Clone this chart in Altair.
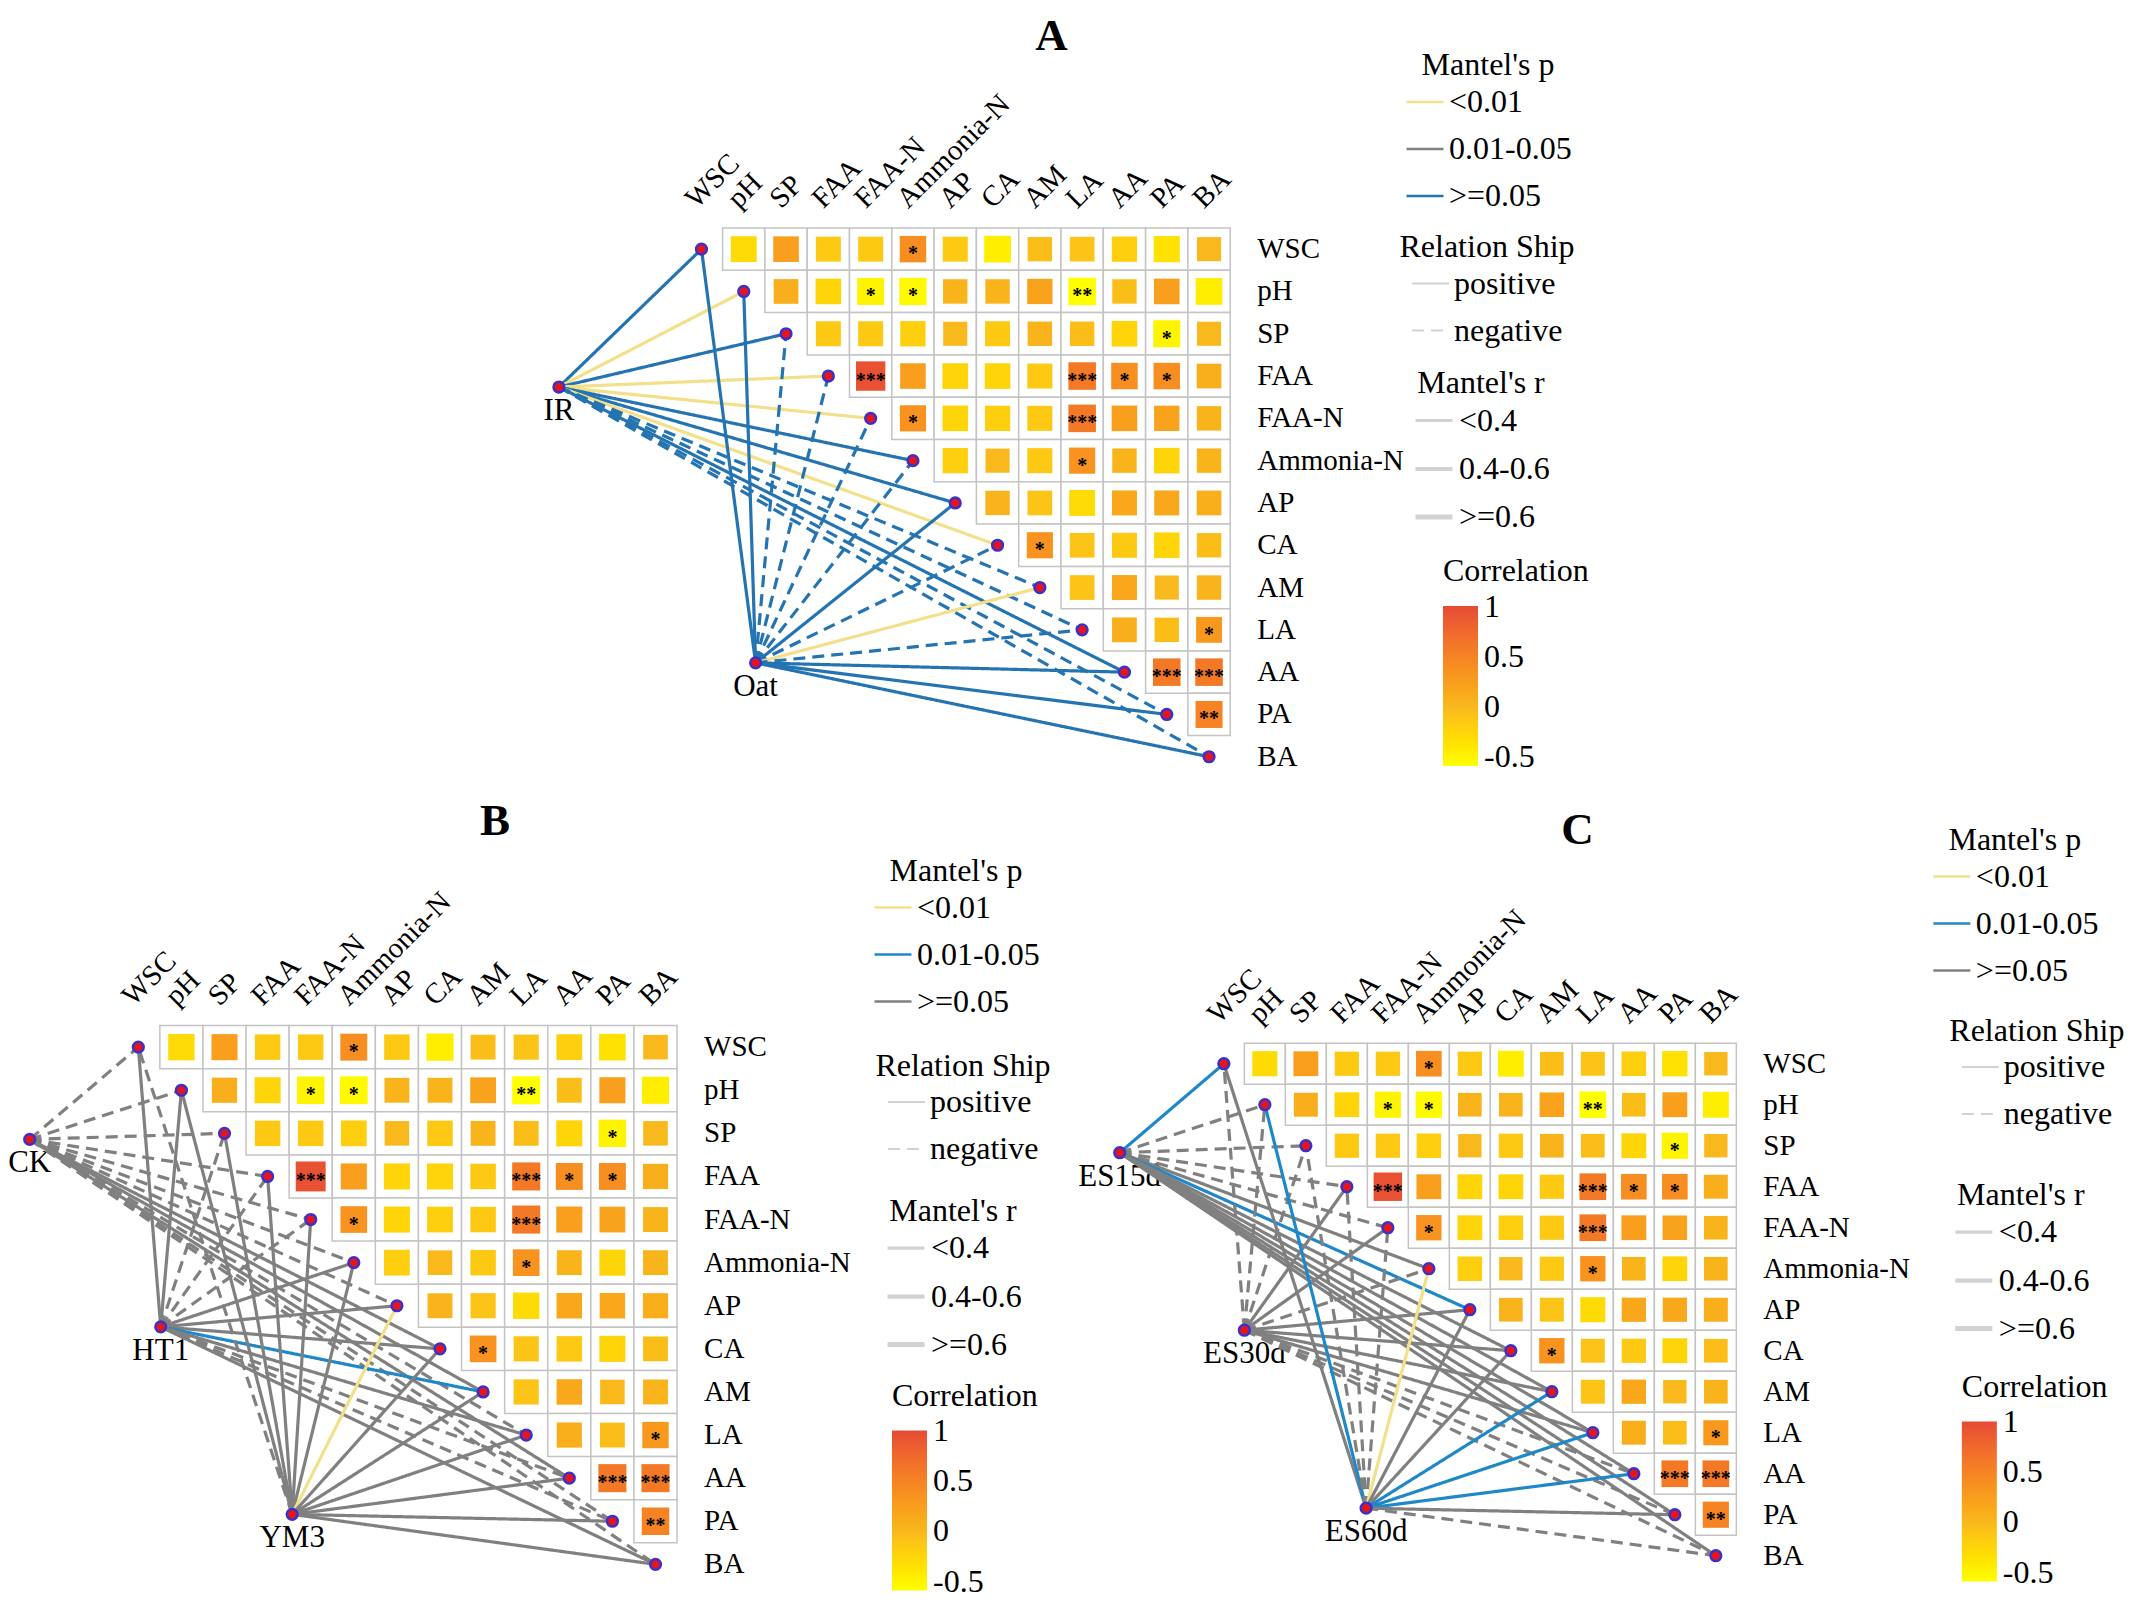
import altair as alt
import pandas as pd

# ---------------- data ----------------
VARS = ["WSC", "pH", "SP", "FAA", "FAA-N", "Ammonia-N", "AP", "CA", "AM", "LA", "AA", "PA", "BA"]

# upper triangle of the correlation matrix: row i holds r(VARS[i], VARS[j]) for j > i
CORR = [
    [-0.30, 0.25, -0.15, -0.15, 0.40, -0.15, -0.45, -0.05, -0.10, -0.20, -0.35, 0.00],
    [0.10, -0.25, -0.50, -0.55, 0.05, 0.05, 0.20, -0.59, -0.05, 0.25, -0.45],
    [-0.15, -0.15, -0.20, 0.00, -0.15, 0.05, -0.05, -0.25, -0.50, 0.00],
    [0.95, 0.25, -0.25, -0.25, -0.15, 0.60, 0.40, 0.40, 0.10],
    [0.35, -0.25, -0.20, -0.15, 0.60, 0.25, 0.20, 0.05],
    [-0.20, 0.00, -0.15, 0.35, 0.05, -0.25, 0.05],
    [0.05, -0.10, -0.30, 0.15, 0.15, 0.10],
    [0.35, -0.10, -0.15, -0.25, -0.05],
    [-0.10, 0.15, 0.00, 0.05],
    [0.10, -0.05, 0.30],
    [0.60, 0.60],
    [0.50],
]

STARS = [
    ("WSC", "Ammonia-N", "*"), ("pH", "FAA-N", "*"), ("pH", "Ammonia-N", "*"), ("pH", "LA", "**"),
    ("SP", "PA", "*"), ("FAA", "FAA-N", "***"), ("FAA", "LA", "***"), ("FAA", "AA", "*"),
    ("FAA", "PA", "*"), ("FAA-N", "Ammonia-N", "*"), ("FAA-N", "LA", "***"), ("Ammonia-N", "LA", "*"),
    ("CA", "AM", "*"), ("LA", "BA", "*"), ("AA", "PA", "***"), ("AA", "BA", "***"), ("PA", "BA", "**"),
]

P_CATS = ["<0.01", "0.01-0.05", ">=0.05"]
R_CATS = ["<0.4", "0.4-0.6", ">=0.6"]
SIGNS = ["positive", "negative"]
LT, MID, HI = P_CATS
POS, NEG = SIGNS
R1 = R_CATS[0]

# Mantel links: per group, one entry per variable (VARS order)
A_GROUPS = ["IR", "Oat"]
A_P = {
    "IR":  [HI, LT, HI, LT, LT, HI, HI, LT, HI, HI, HI, HI, HI],
    "Oat": [HI, HI, HI, HI, HI, HI, HI, HI, LT, HI, HI, HI, HI],
}
A_SIGN = {
    "IR":  [POS, POS, POS, POS, POS, POS, POS, POS, NEG, NEG, POS, NEG, NEG],
    "Oat": [POS, POS, NEG, NEG, NEG, NEG, POS, NEG, POS, NEG, POS, POS, POS],
}

B_GROUPS = ["CK", "HT1", "YM3"]
B_P = {
    "CK":  [HI, HI, HI, HI, HI, HI, HI, HI, HI, HI, HI, HI, HI],
    "HT1": [HI, HI, HI, HI, HI, HI, HI, HI, MID, HI, HI, HI, HI],
    "YM3": [HI, HI, HI, HI, HI, HI, LT, HI, HI, HI, HI, HI, HI],
}
B_SIGN = {
    "CK":  [NEG, NEG, NEG, NEG, NEG, NEG, NEG, POS, POS, NEG, POS, NEG, NEG],
    "HT1": [POS, POS, NEG, NEG, NEG, POS, POS, POS, POS, POS, NEG, NEG, POS],
    "YM3": [NEG, POS, POS, POS, POS, POS, POS, POS, POS, POS, POS, POS, POS],
}

C_GROUPS = ["ES15d", "ES30d", "ES60d"]
C_P = {
    "ES15d": [MID, HI, HI, HI, HI, HI, MID, HI, HI, HI, HI, HI, HI],
    "ES30d": [HI, HI, HI, HI, HI, HI, HI, HI, HI, HI, HI, HI, HI],
    "ES60d": [HI, MID, HI, HI, HI, LT, HI, HI, MID, MID, MID, HI, HI],
}
C_SIGN = {
    "ES15d": [POS, NEG, NEG, NEG, NEG, POS, POS, POS, POS, POS, POS, POS, POS],
    "ES30d": [NEG, NEG, NEG, POS, POS, NEG, POS, POS, POS, POS, NEG, NEG, NEG],
    "ES60d": [POS, POS, NEG, NEG, NEG, POS, POS, POS, POS, POS, POS, POS, NEG],
}

# ---------------- layout (grid units) ----------------
A_NODE_POS = {"IR": (-3.37, 3.26), "Oat": (1.28, 9.78)}
B_NODE_POS = {"CK": (-2.52, 2.14), "HT1": (0.52, 6.49), "YM3": (3.57, 10.84)}
C_NODE_POS = {"ES15d": (-2.54, 2.17), "ES30d": (0.50, 6.50), "ES60d": (3.47, 10.84)}

FONT = "Liberation Serif"
YELLOW_L, BLUE_A, BLUE_BC, GRAY_L = "#F3E08A", "#2474B2", "#1E88C8", "#808080"
LEG_GRAY = "#D2D2D2"
FILL_DOMAIN = [-0.59, 0, 1.006]
FILL_RANGE = ["#FFFF00", "#F9B81C", "#E64B35"]


def make_panel(letter, groups, pmap, smap, node_pos, u, xdom, ydom, pcolors, leg, tdx, toff):
    W = (xdom[1] - xdom[0]) * u
    H = (ydom[1] - ydom[0]) * u
    xs = alt.Scale(domain=xdom, nice=False, zero=False)
    ys = alt.Scale(domain=ydom, nice=False, zero=False, reverse=True)
    star_lookup = {(a, b): s for a, b, s in STARS}

    cells = []
    for i in range(len(VARS)):
        for j in range(i + 1, len(VARS)):
            r = CORR[i][j - i - 1]
            cells.append(dict(x=j, y=i, x0=j - 0.5, x1=j + 0.5, y0=i - 0.5, y1=i + 0.5,
                              r=r, ar=abs(r), star=star_lookup.get((VARS[i], VARS[j]), "")))
    cells = pd.DataFrame(cells)

    links = []
    for g in groups:
        gx, gy = node_pos[g]
        for i, v in enumerate(VARS):
            links.append(dict(x=gx, y=gy, x2=i, y2=i, p=pmap[g][i], sign=smap[g][i], rc=R1))
    links = pd.DataFrame(links)

    dots = pd.DataFrame([dict(x=i, y=i) for i in range(len(VARS))] +
                        [dict(x=node_pos[g][0], y=node_pos[g][1]) for g in groups])
    glabels = pd.DataFrame([dict(x=node_pos[g][0], y=node_pos[g][1], t=g) for g in groups])
    rows = pd.DataFrame([dict(x=len(VARS) - 0.5, y=i, t=v) for i, v in enumerate(VARS)])
    cols = pd.DataFrame([dict(x=i - 5.0 / u, y=-0.5 - 18.5 / u, t=v) for i, v in enumerate(VARS)])

    X = lambda f: alt.X(f, scale=xs, axis=None)
    Y = lambda f: alt.Y(f, scale=ys, axis=None)

    common_leg = dict(orient="none", padding=0, titleFont=FONT, labelFont=FONT, titleFontSize=32,
                      labelFontSize=32, titleFontWeight="normal", titleColor="black",
                      labelColor="black", titleLimit=400, labelLimit=400)
    sym_leg = dict(symbolType="stroke", symbolSize=1369, titlePadding=0, rowPadding=11,
                   labelOffset=4, titleAnchor="middle")

    grid = alt.Chart(cells).mark_rect(fill="white", stroke="#C4C4C4", strokeWidth=1.5).encode(
        x=X("x0:Q"), x2="x1:Q", y=Y("y0:Q"), y2="y1:Q")

    squares = alt.Chart(cells).mark_square(opacity=1).encode(
        x=X("x:Q"), y=Y("y:Q"),
        fill=alt.Fill("r:Q", scale=alt.Scale(domain=FILL_DOMAIN, range=FILL_RANGE),
                      legend=alt.Legend(title="Correlation", legendX=leg["c"][0], legendY=leg["c"][1],
                                        direction="vertical", gradientLength=160, gradientThickness=35,
                                        gradientStrokeWidth=0, values=[1, 0.5, 0, -0.5],
                                        labelExpr="toString(datum.value)", titlePadding=18,
                                        labelOffset=6, titleAnchor="start", labelOverlap=False,
                                        labelBaseline="middle", **common_leg)),
        size=alt.Size("ar:Q", scale=alt.Scale(domain=[0, 1], range=[(0.57 * u) ** 2, (0.70 * u) ** 2]),
                      legend=None))

    stars = alt.Chart(cells).mark_text(font=FONT, fontSize=20, fontWeight="bold", dy=5,
                                       color="black").encode(
        x=X("x:Q"), y=Y("y:Q"), text="star:N")

    rules = alt.Chart(links).mark_rule().encode(
        x=X("x:Q"), y=Y("y:Q"), x2="x2:Q", y2="y2:Q",
        stroke=alt.Stroke("p:N", scale=alt.Scale(domain=P_CATS, range=pcolors),
                          legend=alt.Legend(title="Mantel's p", legendX=leg["p"][0], legendY=leg["p"][1],
                                            symbolStrokeWidth=2.5, **sym_leg, **common_leg)),
        strokeDash=alt.StrokeDash("sign:N", scale=alt.Scale(domain=SIGNS, range=[[1, 0], [12, 7]]),
                                  legend=alt.Legend(title="Relation Ship", legendX=leg["s"][0],
                                                    legendY=leg["s"][1], symbolStrokeColor=LEG_GRAY,
                                                    symbolStrokeWidth=2, **sym_leg, **common_leg)),
        strokeWidth=alt.StrokeWidth("rc:O", scale=alt.Scale(domain=R_CATS, range=[3.2, 5, 7]),
                                    legend=alt.Legend(title="Mantel's r", legendX=leg["r"][0],
                                                      legendY=leg["r"][1], symbolStrokeColor=LEG_GRAY,
                                                      **sym_leg, **common_leg)))

    pts = alt.Chart(dots).mark_circle(size=115, opacity=1, fill="#E8141B", stroke="#3A32C8",
                                      strokeWidth=2.5).encode(x=X("x:Q"), y=Y("y:Q"))

    glab = alt.Chart(glabels).mark_text(font=FONT, fontSize=31, dy=33, baseline="alphabetic",
                                        align="center", color="black").encode(
        x=X("x:Q"), y=Y("y:Q"), text="t:N")
    rlab = alt.Chart(rows).mark_text(font=FONT, fontSize=29, dx=27, align="left", baseline="middle",
                                     color="black").encode(x=X("x:Q"), y=Y("y:Q"), text="t:N")
    clab = alt.Chart(cols).mark_text(font=FONT, fontSize=29, angle=315, align="left",
                                     baseline="alphabetic", color="black").encode(
        x=X("x:Q"), y=Y("y:Q"), text="t:N")

    return alt.layer(grid, squares, stars, glab, rules, pts, rlab, clab).properties(
        width=W, height=H,
        title=alt.TitleParams(letter, font=FONT, fontSize=45, fontWeight="bold", color="black",
                              anchor="middle", frame="group", dx=tdx, offset=toff))


A = make_panel("A", A_GROUPS, A_P, A_SIGN, A_NODE_POS, 42.3, [-16.37, 12.5], [-0.5, 12.5],
               [YELLOW_L, GRAY_L, BLUE_A],
               {"p": (1396, -178), "s": (1390, 4), "r": (1404, 140), "c": (1434, 328)}, 432, -9)
B = make_panel("B", B_GROUPS, B_P, B_SIGN, B_NODE_POS, 43.1, [-3, 12.5], [-0.5, 12.5],
               [YELLOW_L, BLUE_BC, GRAY_L],
               {"p": (864, -170), "s": (866, 25), "r": (876, 170), "c": (883, 355)}, 152, 12)
C = make_panel("C", C_GROUPS, C_P, C_SIGN, C_NODE_POS, 41.0, [-3, 12.5], [-0.93, 12.5],
               [YELLOW_L, BLUE_BC, GRAY_L],
               {"p": (831, -201), "s": (848, -10), "r": (852, 154), "c": (861, 346)}, 159, -28)

ind = dict(stroke="independent", fill="independent", strokeDash="independent",
           strokeWidth="independent", size="independent")
bottom = alt.hconcat(B, C, spacing=422.85, bounds="flush").resolve_scale(**ind).resolve_legend(
    stroke="independent", fill="independent", strokeDash="independent", strokeWidth="independent")
chart = alt.vconcat(A, bottom, spacing=247.6, bounds="flush").resolve_scale(**ind).resolve_legend(
    stroke="independent", fill="independent", strokeDash="independent", strokeWidth="independent"
).properties(padding={"top": 6, "left": 0, "right": 0, "bottom": 0}).configure(
    font=FONT, background="white").configure_view(stroke=None)

chart.save("out.html", embed_options={"renderer": "svg", "actions": False})
